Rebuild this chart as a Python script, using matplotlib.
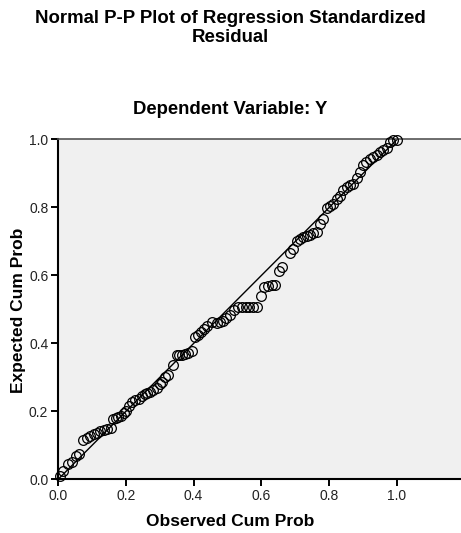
import numpy as np
import matplotlib
matplotlib.use("Agg")
import matplotlib.pyplot as plt

plt.rcParams['font.family'] = ['Liberation Sans', 'DejaVu Sans']

# observed / expected cumulative probabilities
observed = [0.006, 0.016, 0.030, 0.040, 0.054, 0.063, 0.075, 0.085, 0.095, 0.105,
            0.115, 0.125, 0.135, 0.145, 0.155, 0.163, 0.170, 0.178, 0.186, 0.194,
            0.202, 0.210, 0.218, 0.228, 0.238, 0.247, 0.256, 0.264, 0.272, 0.281,
            0.291, 0.300, 0.308, 0.316, 0.325, 0.340, 0.350, 0.358, 0.366, 0.375,
            0.384, 0.394, 0.405, 0.414, 0.423, 0.432, 0.441, 0.453, 0.468, 0.478,
            0.487, 0.497, 0.507, 0.519, 0.532, 0.543, 0.554, 0.565, 0.576, 0.586,
            0.598, 0.608, 0.619, 0.630, 0.641, 0.652, 0.662, 0.684, 0.694, 0.704,
            0.714, 0.724, 0.734, 0.743, 0.753, 0.763, 0.773, 0.783, 0.793, 0.802,
            0.812, 0.822, 0.832, 0.842, 0.852, 0.861, 0.871, 0.881, 0.891, 0.900,
            0.910, 0.920, 0.930, 0.940, 0.950, 0.960, 0.970, 0.979, 0.989, 0.999]
expected = [0.010, 0.025, 0.046, 0.052, 0.070, 0.075, 0.116, 0.122, 0.128, 0.133,
            0.138, 0.142, 0.145, 0.148, 0.152, 0.178, 0.182, 0.184, 0.188, 0.195,
            0.200, 0.215, 0.228, 0.234, 0.238, 0.246, 0.250, 0.254, 0.258, 0.263,
            0.270, 0.280, 0.286, 0.302, 0.307, 0.337, 0.366, 0.366, 0.367, 0.369,
            0.373, 0.379, 0.418, 0.426, 0.433, 0.442, 0.452, 0.462, 0.461, 0.463,
            0.467, 0.474, 0.484, 0.498, 0.506, 0.506, 0.506, 0.506, 0.506, 0.506,
            0.540, 0.566, 0.570, 0.571, 0.571, 0.612, 0.624, 0.667, 0.677, 0.702,
            0.706, 0.712, 0.716, 0.719, 0.724, 0.729, 0.752, 0.765, 0.798, 0.804,
            0.810, 0.826, 0.833, 0.852, 0.860, 0.866, 0.868, 0.886, 0.905, 0.926,
            0.935, 0.944, 0.949, 0.953, 0.964, 0.969, 0.975, 0.993, 0.998, 0.999]

ticks = [0.0, 0.2, 0.4, 0.6, 0.8, 1.0]
tick_labels = ['0.0', '0.2', '0.4', '0.6', '0.8', '1.0']

fig = plt.figure(figsize=(4.61, 5.33), dpi=100)
ax = fig.add_axes([0.1258, 0.1004, 0.8742, 0.6379])
ax.set_facecolor('#f0f0f0')

ax.plot([0, 1], [0, 1], color='black', lw=1.0, zorder=2)
ax.plot(observed, expected, 'o', mfc='none', mec='black', ms=7, mew=0.9,
        clip_on=False, zorder=3)

ax.set_xlim(0, 1.189)
ax.set_ylim(0, 1.0)
ax.set_xticks(ticks)
ax.set_xticklabels(tick_labels)
ax.set_yticks(ticks)
ax.set_yticklabels(tick_labels)
ax.tick_params(direction='out', length=5, width=1.4, labelsize=10,
               labelcolor='#222222', pad=2)

for s in ['left', 'bottom']:
    ax.spines[s].set_linewidth(1.5)
    ax.spines[s].set_color('black')
ax.spines['top'].set_color('#555555')
ax.spines['top'].set_linewidth(1.2)
ax.spines['right'].set_visible(False)

ax.set_xlabel('Observed Cum Prob', fontsize=12.5, fontweight='bold')
ax.set_ylabel('Expected Cum Prob', fontsize=12.5, fontweight='bold')
# label centres in pixels: x label at (230, 522), y label at (19, 310)
ax.xaxis.set_label_coords((230 - 58) / 403, (479.5 - 522) / 340)
ax.xaxis.label.set_va('center')
ax.yaxis.set_label_coords((19 - 58) / 403, (479.5 - 310) / 340)
ax.yaxis.label.set_va('center')

fig.text(0.5, 1 - 28 / 533, 'Normal P-P Plot of Regression Standardized\nResidual',
         ha='center', va='center', fontsize=13.4, fontweight='bold', linespacing=1.2)
fig.text(0.5, 1 - 110 / 533, 'Dependent Variable: Y',
         ha='center', va='center', fontsize=13.3, fontweight='bold')

fig.savefig('out.png', dpi=100)
